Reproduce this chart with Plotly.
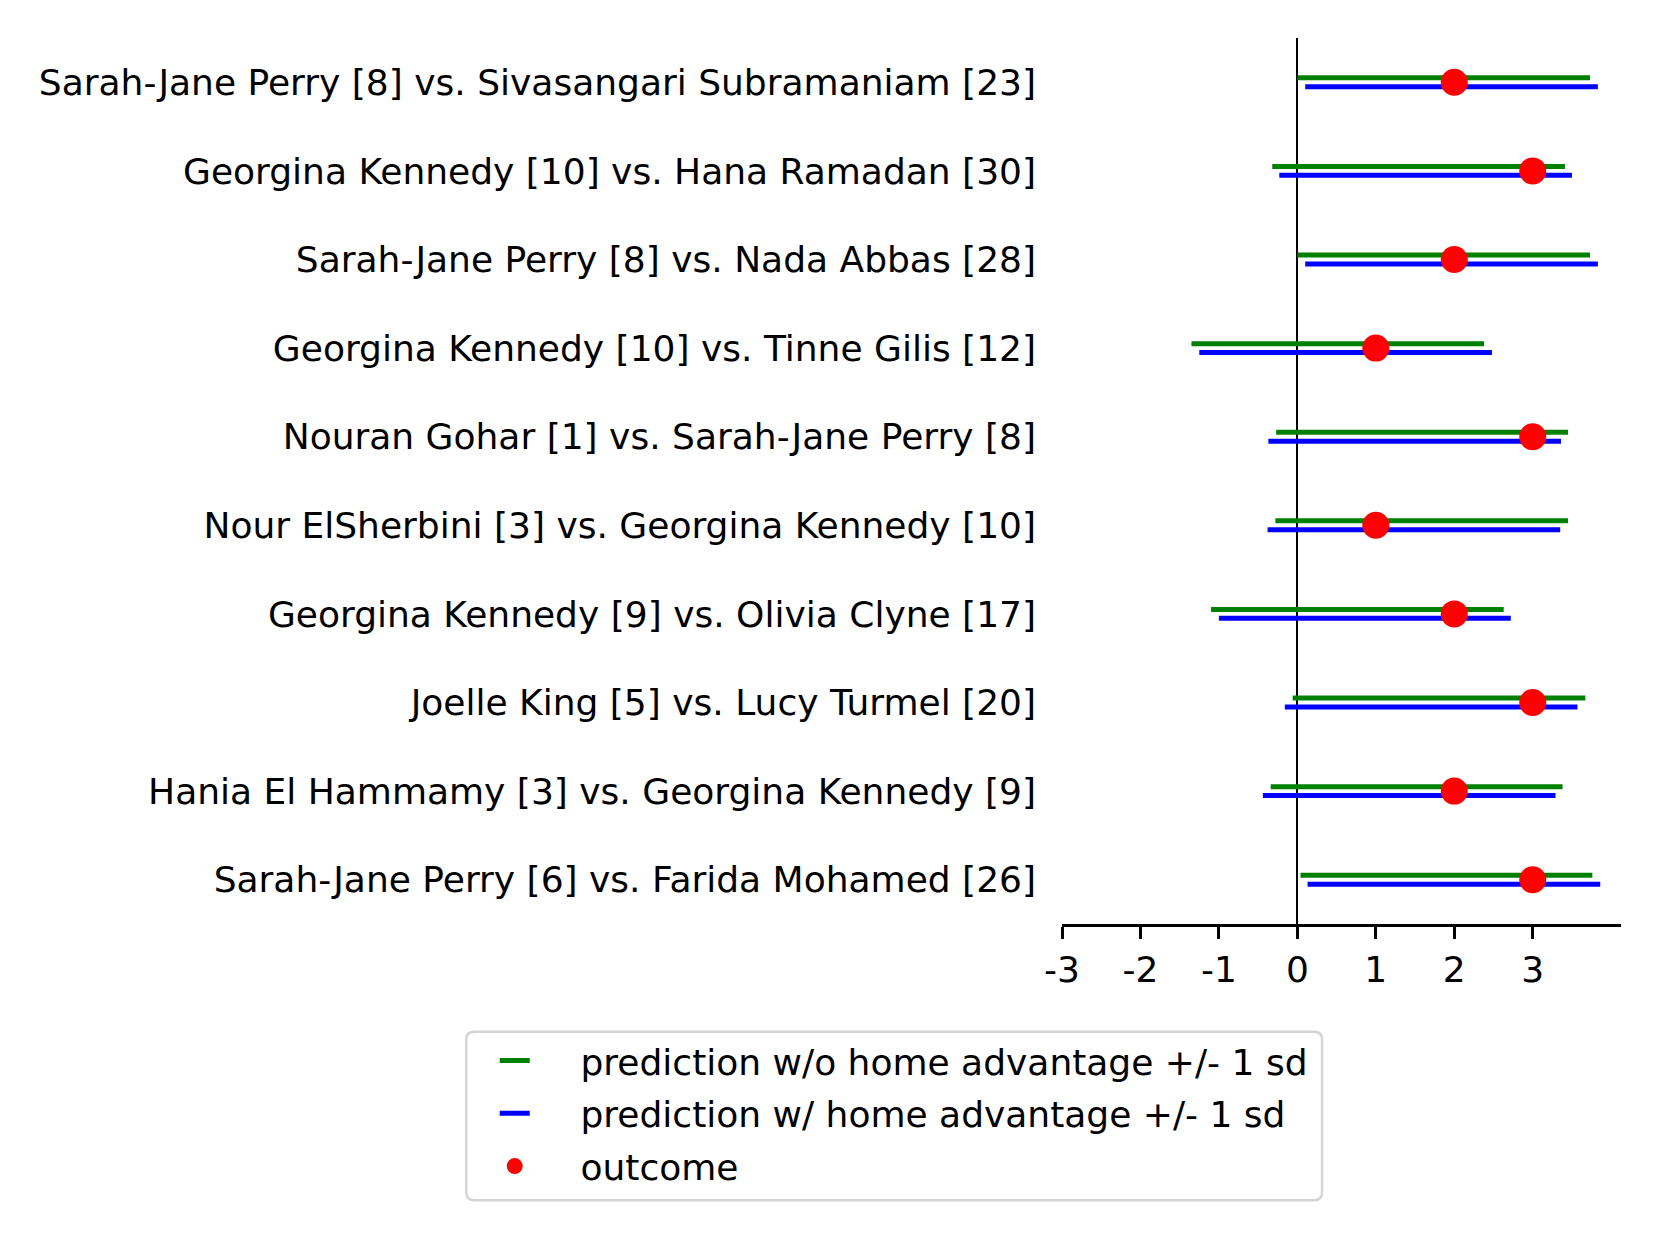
import plotly.graph_objects as go

matches = [
    "Sarah-Jane Perry [8] vs. Sivasangari Subramaniam [23]",
    "Georgina Kennedy [10] vs. Hana Ramadan [30]",
    "Sarah-Jane Perry [8] vs. Nada Abbas [28]",
    "Georgina Kennedy [10] vs. Tinne Gilis [12]",
    "Nouran Gohar [1] vs. Sarah-Jane Perry [8]",
    "Nour ElSherbini [3] vs. Georgina Kennedy [10]",
    "Georgina Kennedy [9] vs. Olivia Clyne [17]",
    "Joelle King [5] vs. Lucy Turmel [20]",
    "Hania El Hammamy [3] vs. Georgina Kennedy [9]",
    "Sarah-Jane Perry [6] vs. Farida Mohamed [26]",
]
no_home_low = [0.00, -0.32, 0.00, -1.35, -0.27, -0.28, -1.10, -0.06, -0.34, 0.04]
no_home_high = [3.73, 3.41, 3.73, 2.38, 3.45, 3.45, 2.63, 3.67, 3.38, 3.76]
home_low = [0.10, -0.23, 0.10, -1.25, -0.37, -0.38, -1.00, -0.16, -0.44, 0.13]
home_high = [3.83, 3.50, 3.83, 2.48, 3.36, 3.35, 2.72, 3.57, 3.29, 3.86]
outcome = [2, 3, 2, 1, 3, 1, 2, 3, 2, 3]
x_ticks = [-3, -2, -1, 0, 1, 2, 3]
x_tick_labels = ["-3", "-2", "-1", "0", "1", "2", "3"]
legend_names = [
    "prediction w/o home advantage +/- 1 sd",
    "prediction w/ home advantage +/- 1 sd",
    "outcome",
]

FONT = "DejaVu Sans"
FS = 36
off = 0.05
rows = list(range(len(matches)))
PAD = "\u00a0" * 4


def segs(lo, hi, dy):
    xs, ys = [], []
    for i, (a, b) in enumerate(zip(lo, hi)):
        xs += [a, b, None]
        ys += [i + dy, i + dy, None]
    return xs, ys


fig = go.Figure()
gx, gy = segs(no_home_low, no_home_high, -off)
fig.add_trace(go.Scatter(x=gx, y=gy, mode="lines", line=dict(color="#008000", width=5),
                         name=PAD + legend_names[0], legendgroup="a"))
bx, by = segs(home_low, home_high, off)
fig.add_trace(go.Scatter(x=bx, y=by, mode="lines", line=dict(color="#0000ff", width=5),
                         name=PAD + legend_names[1], legendgroup="b"))
fig.add_trace(go.Scatter(x=outcome, y=rows, mode="markers",
                         marker=dict(color="#ff0000", size=27, line=dict(width=0)),
                         name=PAD + legend_names[2], legendgroup="c"))

# rounded legend frame (paper coordinates)
x0, x1, y0, y1 = -1.0658, 0.4653, -0.3117, -0.1217
rx, ry = 0.0143, 0.009
frame = (f"M {x0+rx},{y1} L {x1-rx},{y1} Q {x1},{y1} {x1},{y1-ry} "
         f"L {x1},{y0+ry} Q {x1},{y0} {x1-rx},{y0} L {x0+rx},{y0} "
         f"Q {x0},{y0} {x0},{y0+ry} L {x0},{y1-ry} Q {x0},{y1} {x0+rx},{y1} Z")

fig.update_layout(
    width=1660, height=1245,
    margin=dict(l=1054, r=47, t=30, b=329),
    paper_bgcolor="white", plot_bgcolor="white",
    font=dict(family=FONT, size=FS, color="black"),
    showlegend=True,
    legend=dict(
        x=-1.0148, y=-0.1203, xanchor="left", yanchor="top",
        bgcolor="rgba(0,0,0,0)", borderwidth=0,
        font=dict(family=FONT, size=FS, color="black"),
        traceorder="grouped", tracegroupgap=3,
    ),
    shapes=[dict(type="path", path=frame, xref="paper", yref="paper",
                 line=dict(color="#d4d4d4", width=2.5), fillcolor="rgba(255,255,255,0)",
                 layer="below")],
)
fig.update_xaxes(
    range=[-3, 4.125], tickvals=x_ticks, ticktext=x_tick_labels,
    showgrid=False, showline=True, linecolor="black", linewidth=2.7,
    ticks="outside", ticklen=12, tickwidth=2.7, tickcolor="black",
    zeroline=True, zerolinecolor="black", zerolinewidth=1.6,
    tickfont=dict(family=FONT, size=FS, color="black"),
)
fig.update_yaxes(
    range=[9.5, -0.5], tickvals=rows, ticktext=matches,
    showgrid=False, showline=False, zeroline=False, ticks="",
    ticklabelstandoff=25,
    tickfont=dict(family=FONT, size=FS, color="black"),
)

fig.write_html("out.html")
